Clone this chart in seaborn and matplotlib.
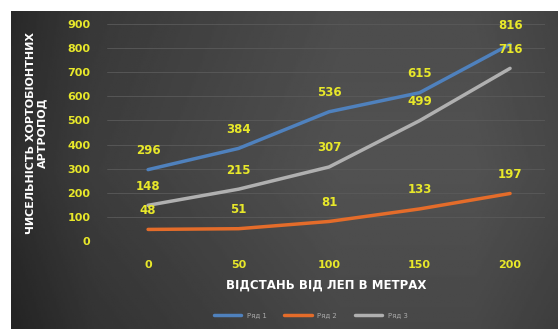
import numpy as np
import pandas as pd
import matplotlib
matplotlib.use("Agg")
import matplotlib.pyplot as plt
import seaborn as sns

distances = [0, 50, 100, 150, 200]
series_names = ["Ряд 1", "Ряд 2", "Ряд 3"]
row1 = [296, 384, 536, 615, 816]
row2 = [48, 51, 81, 133, 197]
row3 = [148, 215, 307, 499, 716]
y_ticks = [0, 100, 200, 300, 400, 500, 600, 700, 800, 900]
colors = ["#4f81bd", "#e46c2a", "#b0b0b0"]

df = pd.DataFrame({
    "x": distances * 3,
    "y": row1 + row2 + row3,
    "s": sum([[n] * 5 for n in series_names], []),
})

sns.set_theme(style="dark")
fig = plt.figure(figsize=(5.58, 3.29), dpi=100, facecolor="white")

# background gradient (frame with white border top/left)
bg = fig.add_axes([11 / 558, 0, 1 - 11 / 558, 1 - 11 / 329])
xs = np.linspace(0, 1, 300)
grad = np.interp(xs, [0, 0.15, 0.6, 0.85, 1.0], [0.16, 0.22, 0.30, 0.30, 0.26])
ys = np.linspace(0, 1, 150)
vgrad = np.interp(ys, [0, 0.5, 1], [0.0, 0.02, -0.02])
img = np.clip(grad[None, :] + vgrad[:, None], 0, 1)
bg.imshow(img, cmap="gray", vmin=0, vmax=1, aspect="auto", extent=[0, 1, 0, 1])
bg.set_axis_off()

ax = fig.add_axes([107 / 558, 1 - 241 / 329, 438 / 558, (241 - 24) / 329])
ax.set_facecolor("none")
for (name, vals), c in zip(zip(series_names, [row1, row2, row3]), colors):
    sub = df[df["s"] == name]
    sns.lineplot(data=sub, x="x", y="y", ax=ax, color=c, linewidth=2.5, label=name)
    for xv, yv in zip(distances, vals):
        ax.annotate(str(yv), (xv, yv), xytext=(0, 9), textcoords="offset points",
                    ha="center", va="bottom", color="#e8e82a", fontsize=8.5, fontweight="bold")

ax.set_xlim(-22.7, 219.3)
ax.set_ylim(0, 900)
ax.set_yticks(y_ticks)
ax.set_xticks(distances)
ax.tick_params(axis="both", colors="#e8e82a", labelsize=8, length=0)
for lab in ax.get_xticklabels() + ax.get_yticklabels():
    lab.set_fontweight("bold")
ax.tick_params(axis="x", pad=14)
ax.tick_params(axis="y", pad=12)
ax.grid(axis="y", color="#5a5a5a", linewidth=0.6)
ax.grid(axis="x", visible=False)
for sp in ax.spines.values():
    sp.set_visible(False)
ax.set_xlabel("ВІДСТАНЬ ВІД ЛЕП В МЕТРАХ", color="white", fontsize=8.5, fontweight="bold", labelpad=6)
ax.set_ylabel("ЧИСЕЛЬНІСТЬ ХОРТОБІОНТНИХ\nАРТРОПОД", color="white", fontsize=8, fontweight="bold", labelpad=14)
leg = ax.legend(loc="upper center", bbox_to_anchor=(0.465, -0.3), ncol=3, frameon=False,
                fontsize=5, handlelength=4, columnspacing=2.5, labelcolor="#aaaaaa")

fig.savefig("out.png", dpi=100, facecolor="white")
